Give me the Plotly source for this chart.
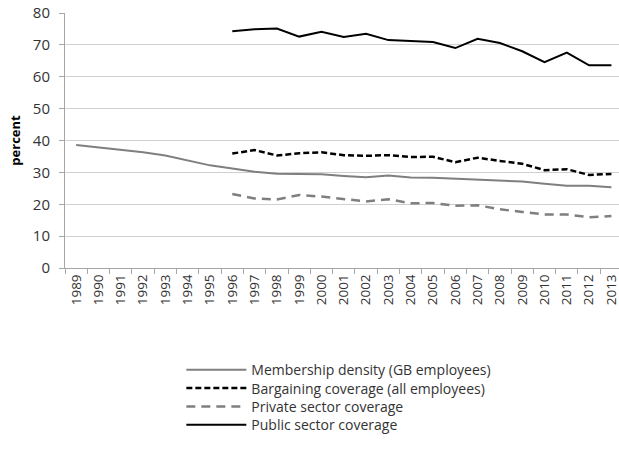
import plotly.graph_objects as go

years = [str(y) for y in range(1989, 2014)]
yrs96 = [str(y) for y in range(1996, 2014)]

membership = [38.6, 37.8, 37.2, 36.3, 35.3, 33.8, 32.2, 31.2, 30.2, 29.6, 29.4, 29.4, 28.9,
              28.5, 29.0, 28.4, 28.3, 28.0, 27.7, 27.3, 27.1, 26.4, 25.8, 25.8, 25.3]
bargaining = [35.9, 37.0, 35.3, 36.0, 36.3, 35.4, 35.2, 35.4, 34.8, 34.9, 33.2, 34.6,
              33.6, 32.7, 30.7, 31.0, 29.2, 29.5]
private = [23.2, 21.8, 21.5, 22.9, 22.4, 21.7, 20.9, 21.6, 20.3, 20.4, 19.5, 19.7,
           18.4, 17.6, 16.8, 16.8, 15.9, 16.3]
public = [74.3, 74.9, 75.1, 72.6, 74.1, 72.5, 73.5, 71.5, 71.2, 70.9, 69.0, 71.9,
          70.6, 68.0, 64.6, 67.6, 63.6, 63.6]

names = ["Membership density (GB employees)", "Bargaining coverage (all employees)",
         "Private sector coverage", "Public sector coverage"]

fig = go.Figure()
fig.add_trace(go.Scatter(x=years, y=membership, name=names[0], mode="lines", legend="legend",
                         line=dict(color="#7f7f7f", width=2)))
fig.add_trace(go.Scatter(x=yrs96, y=bargaining, name=names[1], mode="lines", legend="legend2",
                         line=dict(color="#000000", width=2.5, dash="6px,3px")))
fig.add_trace(go.Scatter(x=yrs96, y=private, name=names[2], mode="lines", legend="legend3",
                         line=dict(color="#7f7f7f", width=2.5, dash="9px,6px")))
fig.add_trace(go.Scatter(x=yrs96, y=public, name=names[3], mode="lines", legend="legend4",
                         line=dict(color="#000000", width=2)))

font = "Open Sans, Noto Sans, sans-serif"
leg_y0 = -0.338
leg_dy = 0.0718


def leg(i):
    return dict(x=0.21, y=leg_y0 - i * leg_dy, xanchor="left", yanchor="top",
                font=dict(size=14, color="#333333"),
                itemwidth=60, bgcolor="rgba(0,0,0,0)")


fig.update_layout(
    width=619, height=451,
    margin=dict(l=65, r=0, t=13, b=183),
    plot_bgcolor="white", paper_bgcolor="white",
    font=dict(family=font, color="#333333"),
    showlegend=True,
    legend=leg(0), legend2=leg(1), legend3=leg(2), legend4=leg(3),
    xaxis=dict(type="category", range=[-0.5, 24.34], tickangle=-90, automargin=False,
               tickson="boundaries", ticks="outside", ticklen=5, tickcolor="#a6a6a6",
               showline=True, linecolor="#a6a6a6", linewidth=1, showgrid=False,
               tickfont=dict(size=13.5, color="#333333")),
    yaxis=dict(range=[0, 80], dtick=10, ticks="outside", ticklen=5, tickcolor="#a6a6a6",
               showline=True, linecolor="#a6a6a6", linewidth=1, automargin=False,
               showgrid=True, gridcolor="#d0d0d0", gridwidth=1,
               zeroline=False, ticklabelstandoff=6, ticklabeloverflow="allow",
               tickfont=dict(size=15, color="#333333"),
               title=dict(text="<b>percent</b>", font=dict(size=13, color="#000000"), standoff=9)),
)

fig.write_html("out.html", config={"displayModeBar": False},
               post_script="document.body.style.margin='0px';")
